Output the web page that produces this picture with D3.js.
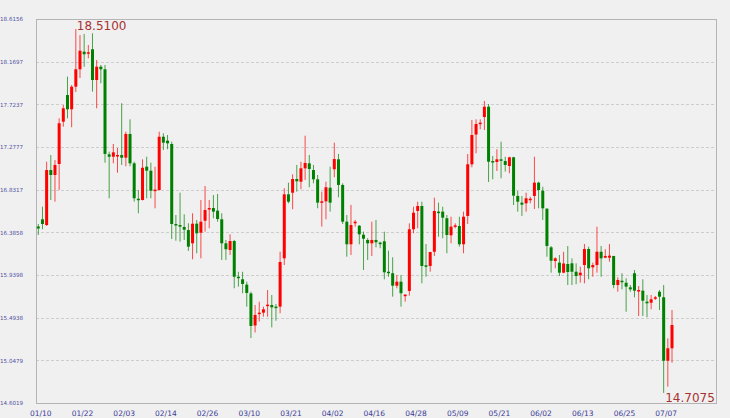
<!DOCTYPE html>
<html><head><meta charset="utf-8">
<script src="https://cdn.jsdelivr.net/npm/d3@7"></script>
<style>
html,body{margin:0;padding:0;background:#f0f0f0;}
svg{display:block;}
</style></head>
<body>
<svg id="chart" width="730" height="418"></svg>
<script>
const xTickLabels = ["01/10","01/22","02/03","02/14","02/26","03/10","03/21","04/02","04/16","04/28","05/09","05/21","06/02","06/13","06/25","07/07"];
const yTickLabels = ["18.6156","18.1697","17.7237","17.2777","16.8317","16.3858","15.9398","15.4938","15.0479","14.6019"];

const open = [16.447,16.522,16.462,17.037,16.985,17.100,17.542,17.821,17.672,17.908,
18.090,18.274,18.253,18.299,17.978,18.117,18.090,17.201,17.176,17.179,
17.194,17.166,17.414,17.107,16.737,16.724,17.072,17.030,16.821,16.828,
17.385,17.344,17.309,16.473,16.462,16.442,16.410,16.271,16.476,16.382,
16.507,16.627,16.640,16.612,16.522,16.271,16.201,16.295,15.922,15.895,
15.839,15.747,15.412,15.532,15.546,15.616,15.626,15.609,15.609,16.114,
16.783,16.800,16.943,16.915,17.055,17.107,17.037,16.940,16.696,16.710,
16.852,17.045,17.149,16.881,16.497,16.261,16.480,16.455,16.361,16.306,
16.271,16.306,16.278,16.292,15.974,15.958,15.828,15.870,15.724,15.773,
16.418,16.609,16.661,16.041,16.034,16.183,16.602,16.602,16.533,16.355,
16.445,16.452,16.261,16.557,17.097,17.408,17.521,17.591,17.699,17.131,
17.121,17.149,17.131,17.079,17.170,16.766,16.696,16.689,16.727,16.766,
16.905,16.821,16.633,16.229,16.086,16.069,15.964,16.055,16.062,15.974,
15.937,16.044,16.212,16.020,16.044,16.183,16.121,16.121,16.139,15.835,
15.880,15.859,15.811,15.958,15.773,15.776,15.661,15.650,15.692,15.765,
15.707,15.044,15.174];

const close = [16.426,16.473,17.037,16.985,17.090,17.526,17.682,17.672,17.908,18.090,
18.284,18.247,18.268,17.978,18.117,18.090,17.205,17.176,17.222,17.194,
17.166,17.414,17.107,16.742,16.724,17.061,17.030,16.821,16.832,17.385,
17.323,17.316,16.473,16.462,16.445,16.413,16.236,16.476,16.376,16.497,
16.619,16.640,16.602,16.525,16.271,16.209,16.295,15.922,15.912,15.846,
15.752,15.407,15.522,15.546,15.581,15.630,15.602,15.602,16.076,16.783,
16.706,16.943,16.919,17.055,17.111,17.048,16.940,16.696,16.710,16.857,
16.696,17.152,16.881,16.497,16.261,16.462,16.497,16.365,16.319,16.271,
16.306,16.282,16.271,15.968,15.958,15.828,15.870,15.749,15.734,16.418,
16.591,16.661,16.034,16.027,16.180,16.609,16.591,16.539,16.358,16.445,
16.459,16.261,16.549,17.097,17.403,17.518,17.532,17.699,17.124,17.118,
17.149,17.135,17.090,17.170,16.769,16.706,16.675,16.742,16.737,16.905,
16.828,16.637,16.243,16.089,16.114,15.964,16.060,15.971,15.974,15.929,
15.964,16.212,16.010,16.044,16.183,16.114,16.139,16.142,15.835,15.888,
15.864,15.818,15.790,15.776,15.783,15.671,15.644,15.686,15.707,15.713,
15.044,15.174,15.417];

const high = [16.473,16.654,17.124,17.194,17.142,17.578,17.717,18.013,17.926,18.510,
18.448,18.459,18.344,18.466,18.187,18.135,18.135,17.229,17.309,17.267,
17.735,17.438,17.567,17.124,16.828,17.149,17.176,17.114,17.072,17.438,
17.421,17.403,17.333,16.567,16.800,16.574,16.480,16.585,16.515,16.724,
16.870,16.724,16.776,16.787,16.585,16.306,16.365,16.306,15.974,15.974,
15.870,15.765,15.626,15.661,15.609,15.783,15.731,15.637,16.183,16.846,
16.905,16.992,17.090,17.124,17.396,17.194,17.090,16.985,16.811,16.915,
17.072,17.323,17.205,16.898,16.567,16.672,16.515,16.462,16.393,16.324,
16.497,16.515,16.288,16.393,16.194,16.125,15.940,15.940,15.741,16.480,
16.654,16.706,16.706,16.264,16.183,16.748,16.696,16.654,16.567,16.549,
16.480,16.549,16.602,17.205,17.560,17.567,17.567,17.759,17.727,17.184,
17.254,17.333,17.176,17.176,17.176,16.818,16.766,16.800,16.758,17.176,
16.915,16.863,16.637,16.243,16.125,16.149,16.183,16.243,16.114,16.062,
16.027,16.264,16.236,16.069,16.445,16.243,16.209,16.264,16.139,15.916,
15.958,15.905,15.835,15.992,15.825,15.895,15.731,15.731,15.720,15.783,
15.835,15.278,15.574];

const low = [16.358,16.418,16.452,16.724,16.706,16.828,17.490,17.578,17.484,17.853,
17.999,18.117,18.205,17.856,17.682,17.944,17.114,16.742,17.107,17.009,
17.090,17.076,17.076,16.706,16.585,16.719,16.742,16.742,16.637,16.823,
17.246,17.254,16.316,16.298,16.288,16.306,16.191,16.104,16.167,16.114,
16.393,16.428,16.533,16.497,16.097,16.097,16.149,15.801,15.818,15.749,
15.609,15.281,15.339,15.454,15.504,15.504,15.393,15.462,15.540,16.044,
16.689,16.627,16.811,16.836,16.933,16.857,16.898,16.637,16.445,16.522,
16.602,16.961,16.752,16.473,16.131,16.149,16.445,16.261,15.992,16.097,
16.139,16.229,16.219,15.895,15.922,15.713,15.801,15.609,15.661,15.724,
16.376,16.428,15.853,15.922,15.974,16.139,16.340,16.324,16.167,16.271,
16.428,16.236,16.167,16.473,17.066,17.212,17.463,17.455,16.912,16.940,
17.027,16.951,17.020,17.003,16.672,16.602,16.557,16.602,16.689,16.630,
16.637,16.515,16.131,15.964,16.010,15.929,15.958,15.835,15.835,15.843,
15.859,15.853,15.895,15.922,15.964,15.922,16.114,16.079,15.801,15.765,
15.790,15.556,15.765,15.707,15.511,15.511,15.498,15.581,15.679,15.574,
14.7075,14.772,15.023];

const TICK_EVERY = 10;
const UP = "#ff0000", DOWN = "#008000";

const svg = d3.select("#chart");
const L = 36, R = 716, T = 19, B = 403;
const n = open.length;
const x = d3.scaleLinear().domain([0, n - 1]).range([38.3, 672]);
const yVals = yTickLabels.map(Number);
const y = d3.scaleLinear().domain([d3.min(yVals), d3.max(yVals)]).range([B, T]);

// grid lines
svg.append("g").selectAll("line")
  .data(yVals.filter(v => v !== d3.min(yVals) && v !== d3.max(yVals)))
  .join("line")
  .attr("x1", L).attr("x2", R)
  .attr("y1", d => Math.round(y(d)) + 0.5).attr("y2", d => Math.round(y(d)) + 0.5)
  .attr("stroke", "#cdcdcd").attr("stroke-dasharray", "3,2").attr("stroke-width", 1);

// frame
svg.append("rect").attr("x", L + 0.5).attr("y", T + 0.5)
  .attr("width", R - L).attr("height", B - T)
  .attr("fill", "none").attr("stroke", "#b4b4b4").attr("stroke-width", 1);

// y labels
const yAxis = d3.axisLeft(y).tickValues(yVals).tickFormat((d, i) => yTickLabels[i]).tickSize(0);
const ga = svg.append("g").call(yAxis);
ga.select(".domain").remove();
ga.selectAll("text").attr("x", 0).attr("text-anchor", "start")
  .attr("font-family", "DejaVu Sans, Verdana, sans-serif").attr("font-size", 5.6)
  .attr("fill", "#5050a4");

// x labels
const xTickIdx = xTickLabels.map((_, i) => i * TICK_EVERY);
const xAxis = d3.axisBottom(x).tickValues(xTickIdx).tickFormat((d, i) => xTickLabels[i]).tickSize(0);
const gx = svg.append("g").attr("transform", `translate(2,${B})`).call(xAxis);
gx.select(".domain").remove();
gx.selectAll("text").attr("dy", 0).attr("y", 12.5)
  .attr("font-family", "DejaVu Sans, Verdana, sans-serif").attr("font-size", 7.5)
  .attr("fill", "#3c3c98");

// candles
const idx = d3.range(n);
const g = svg.append("g");
g.selectAll("line.wick").data(idx).join("line").attr("class", "wick")
  .attr("x1", i => x(i)).attr("x2", i => x(i))
  .attr("y1", i => y(high[i])).attr("y2", i => y(low[i]))
  .attr("stroke", i => close[i] >= open[i] ? UP : DOWN).attr("stroke-width", 1)
  .attr("stroke-opacity", 0.7);
g.selectAll("rect.body").data(idx).join("rect").attr("class", "body")
  .attr("x", i => x(i) - 1.5).attr("width", 3)
  .attr("y", i => y(Math.max(open[i], close[i])))
  .attr("height", i => Math.max(1.5, Math.abs(y(open[i]) - y(close[i]))))
  .attr("fill", i => close[i] >= open[i] ? UP : DOWN);

// max / min annotations
const iMax = d3.maxIndex(high), iMin = d3.minIndex(low);
svg.append("text").attr("x", x(iMax) + 1).attr("y", y(high[iMax]) + 1)
  .attr("font-family", "DejaVu Sans, Verdana, sans-serif").attr("font-size", 12)
  .attr("fill", "#a83232").text(high[iMax].toFixed(4));
svg.append("text").attr("x", x(iMin) + 1.5).attr("y", y(low[iMin]) + 9)
  .attr("font-family", "DejaVu Sans, Verdana, sans-serif").attr("font-size", 12)
  .attr("fill", "#a83232").text(low[iMin].toFixed(4));
</script>
</body></html>
